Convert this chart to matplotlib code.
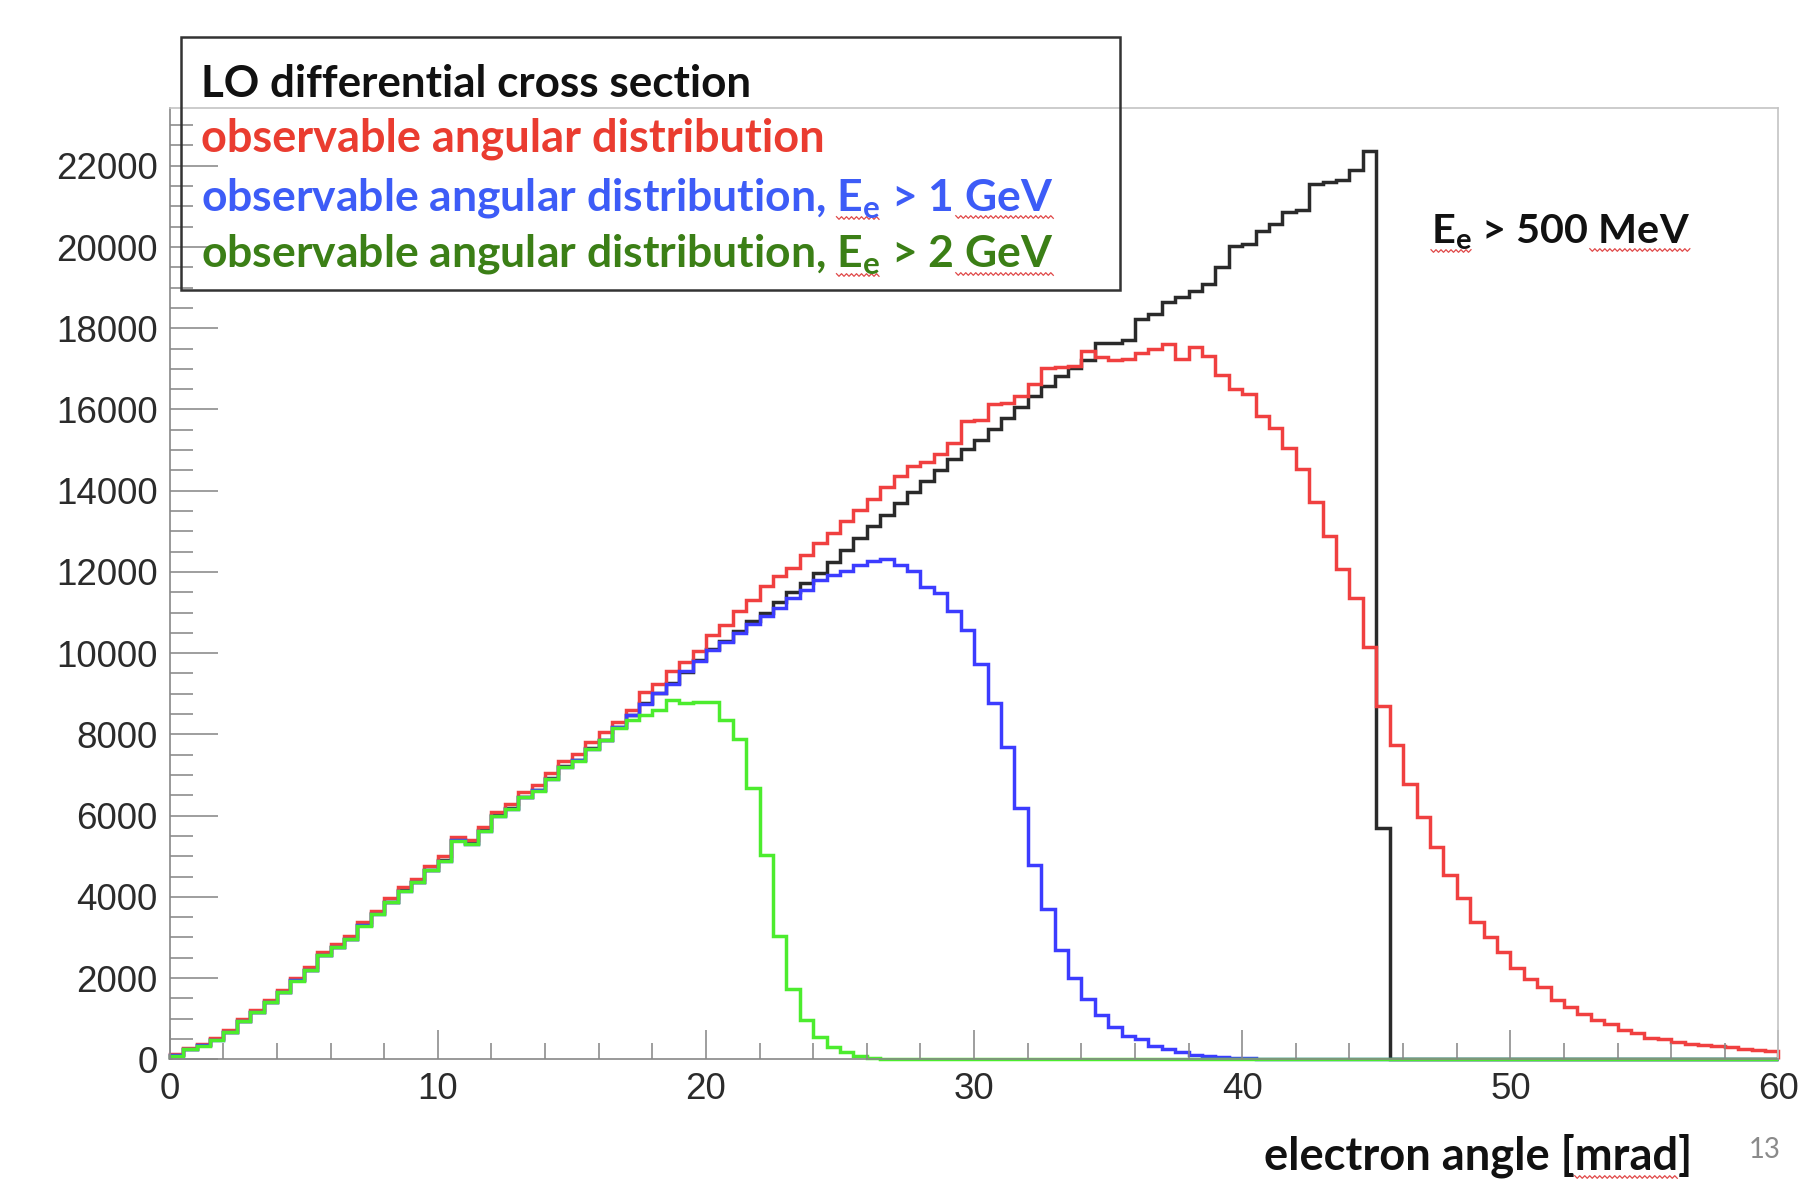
import matplotlib
matplotlib.use('Agg')
import matplotlib.pyplot as plt
import numpy as np
from matplotlib.ticker import MultipleLocator
from matplotlib.patches import Rectangle
from matplotlib.lines import Line2D

plt.rcParams['mathtext.fontset'] = 'custom'
plt.rcParams['mathtext.rm'] = 'Lato:bold'
plt.rcParams['mathtext.bf'] = 'Lato:bold'

# 120 bins of 0.5 mrad from 0 to 60 mrad
edges = np.linspace(0, 60, 121)

lo_xsec = [99, 263, 345, 490, 680, 950, 1170, 1420, 1660, 1950,
           2210, 2580, 2770, 2970, 3300, 3590, 3880, 4160, 4370, 4660,
           4900, 5400, 5320, 5640, 6010, 6180, 6470, 6630, 6920, 7210,
           7370, 7660, 7870, 8190, 8480, 8770, 9020, 9270, 9540, 9840,
           10100, 10300, 10550, 10780, 11000, 11250, 11500, 11730, 11970, 12250,
           12550, 12830, 13120, 13400, 13700, 13960, 14230, 14500, 14770, 15020,
           15260, 15530, 15800, 16070, 16330, 16580, 16830, 17030, 17230, 17640,
           17640, 17700, 18225, 18350, 18640, 18760, 18920, 19090, 19500, 20035,
           20080, 20400, 20570, 20855, 20900, 21550, 21600, 21640, 21885, 22375,
           5690] + [0] * 29

obs_all = [120, 290, 380, 520, 720, 990, 1210, 1470, 1710, 2000,
           2270, 2640, 2830, 3040, 3370, 3660, 3960, 4240, 4450, 4750,
           5000, 5470, 5400, 5730, 6100, 6290, 6580, 6750, 7050, 7350,
           7520, 7820, 8050, 8300, 8600, 9050, 9250, 9550, 9780, 10050,
           10450, 10700, 11050, 11300, 11650, 11900, 12100, 12420, 12700, 12950,
           13250, 13530, 13800, 14100, 14350, 14600, 14700, 14900, 15180, 15720,
           15750, 16130, 16150, 16330, 16620, 17030, 17050, 17070, 17450, 17300,
           17230, 17250, 17400, 17485, 17608, 17240, 17530, 17320, 16845, 16500,
           16375, 15840, 15555, 15060, 14530, 13710, 12890, 12065, 11370, 10140,
           8690, 7745, 6780, 5975, 5235, 4540, 3960, 3387, 3000, 2645,
           2236, 1965, 1783, 1471, 1291, 1110, 963, 864, 733, 651,
           535, 494, 429, 388, 347, 330, 305, 264, 223, 199]

obs_1gev = [95, 258, 340, 485, 675, 945, 1165, 1415, 1655, 1945,
            2205, 2575, 2765, 2965, 3295, 3585, 3875, 4155, 4365, 4655,
            4890, 5390, 5310, 5630, 6000, 6170, 6460, 6620, 6910, 7200,
            7360, 7650, 7860, 8180, 8470, 8760, 9010, 9250, 9560, 9800,
            10080, 10280, 10500, 10720, 10920, 11120, 11350, 11560, 11810, 11930,
            12015, 12180, 12265, 12306, 12180, 12015, 11640, 11480, 11030, 10570,
            9740, 8770, 7700, 6198, 4785, 3700, 2690, 1990, 1496, 1085,
            797, 575, 493, 320, 247, 180, 115, 82, 55, 35,
            22, 15, 10, 6, 4, 2, 1] + [0] * 33

obs_2gev = [92, 255, 335, 480, 670, 940, 1160, 1410, 1650, 1940,
            2200, 2570, 2760, 2960, 3290, 3580, 3870, 4150, 4360, 4650,
            4880, 5380, 5300, 5620, 5990, 6160, 6450, 6610, 6900, 7190,
            7350, 7640, 7850, 8150, 8350, 8480, 8607, 8853, 8780, 8790,
            8800, 8360, 7883, 6690, 5030, 3040, 1720, 960, 550, 300,
            180, 75, 30, 15, 8, 4, 2] + [0] * 63

series = [lo_xsec, obs_all, obs_1gev, obs_2gev]
line_colors = ['#2a2a2a', '#f04040', '#3c3cff', '#4cec2e']

legend_labels = ['LO differential cross section',
                 'observable angular distribution',
                 r'observable angular distribution, E$_\mathrm{e}$ > 1 GeV',
                 r'observable angular distribution, E$_\mathrm{e}$ > 2 GeV']
legend_colors = ['#111111', '#ea3c30', '#3d5cf7', '#3b7f16']

W, H = 1805, 1179
fig = plt.figure(figsize=(W / 100, H / 100), dpi=100)
ax = fig.add_axes([169.7 / W, 1 - 1059.3 / H, (1778.5 - 169.7) / W, (1059.3 - 108.1) / H])

for vals, c in zip(series, line_colors):
    ax.stairs(vals, edges, color=c, lw=2.5, baseline=0, clip_on=False)

ax.set_xlim(0, 60)
ax.set_ylim(0, 23420)
ax.set_xticks(np.arange(0, 61, 10))
ax.set_yticks(np.arange(0, 22001, 2000))
ax.xaxis.set_minor_locator(MultipleLocator(2))
ax.yaxis.set_minor_locator(MultipleLocator(500))
ax.tick_params(which='both', direction='in', color='#888888', width=1.15,
               labelsize=26.5, labelcolor='#2b2b2b')
ax.tick_params(axis='x', which='major', length=21, pad=9.5)
ax.tick_params(axis='x', which='minor', length=11.5)
ax.tick_params(axis='y', which='major', length=34.5, pad=8.6)
ax.tick_params(axis='y', which='minor', length=16.5)
for lab in ax.get_xticklabels() + ax.get_yticklabels():
    lab.set_family('Liberation Sans')
for side in ['left', 'bottom']:
    ax.spines[side].set_color('#888888')
    ax.spines[side].set_linewidth(1.2)
for side in ['top', 'right']:
    ax.spines[side].set_color('#c4c4c4')
    ax.spines[side].set_linewidth(1.2)

fig.canvas.draw()
renderer = fig.canvas.get_renderer()


def width_of(s, size, weight):
    t = fig.text(0, 0, s, fontsize=size, fontweight=weight, family='Lato')
    w = t.get_window_extent(renderer=renderer).width
    t.remove()
    return w


def place(s, x0, x1, ybase, color, weight='bold'):
    size = 30 * (x1 - x0) / width_of(s, 30, weight)
    fig.text(x0 / W, 1 - ybase / H, s, color=color, fontsize=size,
             fontweight=weight, family='Lato', ha='left', va='baseline')
    return size


def squiggle(s, size, x0, ybase, start, stop, drop=7):
    # red spell-check wave under s[start:stop], positions in pixels
    a = x0 + (width_of(s[:start], size, 'bold') if start else 0)
    b = x0 + width_of(s[:stop], size, 'bold')
    xs = np.arange(a, b + 0.1, 2.5)
    ys = ybase + drop + np.where(np.arange(len(xs)) % 2 == 0, -1.3, 1.3)
    fig.add_artist(Line2D(xs / W, 1 - ys / H, transform=fig.transFigure,
                          color='#e04848', lw=0.9))


# legend block (transparent box drawn over the frame)
fig.add_artist(Rectangle((181 / W, 1 - 290 / H), (1120 - 181) / W, (290 - 37) / H,
                         transform=fig.transFigure, fill=False, ec='#333333', lw=1.8))
leg_right = [751, 824, 1053, 1053]
leg_base = [97, 152, 210, 267]
for s, c, xr, yb in zip(legend_labels, legend_colors, leg_right, leg_base):
    sz = place(s, 201, xr, yb, c)
    if '$' in s:
        i = s.index('E$')
        j = s.index('}$') + 2
        squiggle(s, sz, 201, yb, i, j, drop=8)
        squiggle(s, sz, 201, yb, len(s) - 3, len(s))

ee = r'E$_\mathrm{e}$ > 500 MeV'
sz = place(ee, 1431, 1690, 243, '#111111')
squiggle(ee, sz, 1431, 243, 0, ee.index('}$') + 2, drop=8)
squiggle(ee, sz, 1431, 243, len(ee) - 3, len(ee))

xl = 'electron angle [mrad]'
sz = place(xl, 1264, 1692, 1170, '#111111')
squiggle(xl, sz, 1264, 1170, xl.index('mrad'), xl.index(']'))
place('13', 1749, 1781, 1158, '#8a8a8a', weight='normal')

fig.savefig('out.png', dpi=100)
